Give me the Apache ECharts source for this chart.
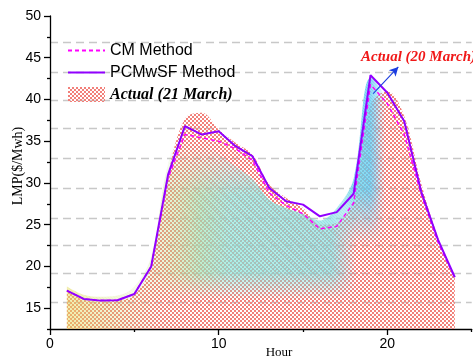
<!DOCTYPE html>
<html>
<head>
<meta charset="utf-8">
<script src="https://cdn.jsdelivr.net/npm/echarts@6/dist/echarts.min.js"></script>
<style>
  html, body { margin: 0; padding: 0; background: #fff; }
  #chart { width: 473px; height: 363px; }
</style>
</head>
<body>
<div id="chart"></div>
<script>
// Hourly LMP values ($/MWh)
const hours = [1, 2, 3, 4, 5, 6, 7, 8, 9, 10, 11, 12, 13, 14, 15, 16, 17, 18, 19, 20, 21, 22, 23, 24];
const cmMethod = [17.1, 16.1, 15.9, 15.95, 16.7, 20.0, 30.6, 35.8, 35.4, 35.0, 34.1, 32.7, 28.8, 27.3, 26.3, 24.5, 24.8, 27.6, 41.8, 39.5, 35.8, 28.7, 22.9, 18.6];
const pcmwsfMethod = [17.1, 16.1, 15.9, 15.95, 16.7, 20.0, 31.0, 36.8, 35.8, 36.2, 34.4, 33.2, 29.4, 27.8, 27.4, 26.0, 26.5, 28.7, 42.9, 40.8, 37.4, 29.0, 23.2, 18.7];
const actual21March = [17.1, 16.0, 15.8, 15.9, 16.6, 20.0, 31.0, 37.7, 38.4, 36.4, 34.8, 33.4, 29.8, 28.2, 27.0, 25.0, 25.2, 27.8, 39.3, 41.0, 38.0, 30.0, 23.5, 18.8];
const actual20March = [17.6, 16.6, 16.35, 16.5, 17.6, 21.2, 32.3, 36.3, 35.0, 33.5, 32.0, 30.5, 28.0, 27.0, 26.3, 25.5, 27.0, 30.5, 42.6, 40.0, 35.0, 28.0, 22.5, 18.3];

// Axis ticks and background guide levels
const xMajorTicks = [0, 10, 20];
const xMinorTicks = [5, 15, 25];
const yMajorTicks = [15, 20, 25, 30, 35, 40, 45, 50];
const yMinorTicks = [12.5, 17.5, 22.5, 27.5, 32.5, 37.5, 42.5, 47.5];
const guideLevels = [15.7, 19.2, 22.5, 25.8, 29.4, 33.0, 36.55, 39.95, 43.3, 46.8];

// Annotation arrow for the 20 March curve (data coordinates)
const arrowFrom = [19.16, 40.7];
const arrowTo = [20.65, 43.9];

const W = 473, H = 363;

function makeCanvas() {
  const c = document.createElement('canvas');
  c.width = W; c.height = H;
  return c;
}

function hGradient(ctx, stops) {
  const gr = ctx.createLinearGradient(0, 0, W, 0);
  stops.forEach(([x, a]) => gr.addColorStop(x / W, 'rgba(0,0,0,' + a + ')'));
  return gr;
}

function vGradient(ctx, stops) {
  const gr = ctx.createLinearGradient(0, 0, 0, H);
  stops.forEach(([y, a]) => gr.addColorStop(y / H, 'rgba(0,0,0,' + a + ')'));
  return gr;
}

// Soft rectangular alpha patch: product of a vertical and a horizontal ramp
function softPatch(vStops, hStops) {
  const c = makeCanvas();
  const g = c.getContext('2d');
  g.fillStyle = vGradient(g, vStops);
  g.fillRect(0, 0, W, H);
  g.globalCompositeOperation = 'destination-in';
  g.fillStyle = hGradient(g, hStops);
  g.fillRect(0, 0, W, H);
  return c;
}

// Red checkerboard fill
function checkerPattern() {
  const c = document.createElement('canvas');
  c.width = 4; c.height = 4;
  const g = c.getContext('2d');
  g.fillStyle = 'rgb(242,128,122)';
  g.fillRect(0, 0, 2, 2);
  g.fillRect(2, 2, 2, 2);
  return c;
}

// Translucent diagonal hatch whose colour drifts from yellow to cyan across the chart
function hatchLayer() {
  const c = makeCanvas();
  const g = c.getContext('2d');
  const col = g.createLinearGradient(60, 0, 400, 0);
  col.addColorStop(0.0, '#e8dc5c');
  col.addColorStop(0.32, '#b8e08c');
  col.addColorStop(0.5, '#84e4da');
  col.addColorStop(0.8, '#7adcde');
  col.addColorStop(0.93, '#5ac6f2');
  col.addColorStop(1.0, 'rgba(90,198,242,0)');
  g.fillStyle = col;
  g.fillRect(0, 0, W, H);

  // strength mask: a soft central band, the low-hour strip and the evening-peak flank
  const m = makeCanvas();
  const mg = m.getContext('2d');
  mg.drawImage(softPatch(
    [[0, 0], [145, 0], [195, 0.78], [272, 0.78], [300, 0], [H, 0]],
    [[0, 0], [135, 0], [200, 1], [332, 1], [356, 0], [W, 0]]
  ), 0, 0);
  mg.drawImage(softPatch(
    [[0, 0.6], [H, 0.6]],
    [[0, 1], [70, 1], [160, 0.08], [200, 0], [W, 0]]
  ), 0, 0);
  mg.drawImage(softPatch(
    [[0, 1], [190, 1], [245, 0], [H, 0]],
    [[0, 0], [335, 0], [352, 0.9], [370, 0.9], [386, 0], [W, 0]]
  ), 0, 0);

  g.globalCompositeOperation = 'destination-in';
  g.drawImage(m, 0, 0);

  // stripes over a faint solid tint
  const s = makeCanvas();
  const sg = s.getContext('2d');
  sg.fillStyle = 'rgba(0,0,0,0.4)';
  sg.fillRect(0, 0, W, H);
  sg.strokeStyle = '#000';
  sg.lineWidth = 1.6;
  for (let i = -H; i < W; i += 3) {
    sg.beginPath();
    sg.moveTo(i, 0);
    sg.lineTo(i + H, H);
    sg.stroke();
  }
  g.drawImage(s, 0, 0);
  g.globalCompositeOperation = 'source-over';
  return c;
}

const redFill = { image: checkerPattern(), repeat: 'repeat' };
const hatchFill = { image: hatchLayer(), repeat: 'no-repeat' };

const pairs = vals => hours.map((h, i) => [h, vals[i]]);

const sansFont = '"Liberation Sans", Arial, sans-serif';
const serifFont = '"Liberation Serif", "Times New Roman", serif';
const noMarker = { color: 'rgba(0,0,0,0)', borderWidth: 0, opacity: 0 };

const chart = echarts.init(document.getElementById('chart'), null, { renderer: 'canvas' });

chart.setOption({
  animation: false,
  backgroundColor: '#fff',
  grid: { left: 50, top: 16, right: 1.3, bottom: 34, containLabel: false },
  legend: {
    left: 62, top: 37.5, orient: 'vertical',
    itemWidth: 37, itemHeight: 15, itemGap: 6,
    textStyle: { color: '#000', fontSize: 16, fontFamily: sansFont },
    data: [
      { name: 'CM Method', itemStyle: noMarker },
      { name: 'PCMwSF Method', itemStyle: noMarker },
      { name: 'Actual (21 March)', icon: 'rect', itemStyle: { color: redFill },
        textStyle: { fontFamily: serifFont, fontStyle: 'italic', fontWeight: 'bold', fontSize: 16, color: '#000' } }
    ]
  },
  xAxis: [
    {
      type: 'value', min: 0, max: 25, position: 'bottom',
      axisLine: { show: true, onZero: false, lineStyle: { color: '#000', width: 1.3 } },
      axisTick: { show: true, customValues: xMajorTicks, length: 6, lineStyle: { color: '#000', width: 1.3 } },
      axisLabel: { customValues: xMajorTicks, color: '#000', fontSize: 14, fontFamily: sansFont, margin: 8 },
      splitLine: { show: false }
    },
    {
      type: 'value', min: 0, max: 25, position: 'bottom',
      axisLine: { show: false, onZero: false },
      axisTick: { show: true, customValues: xMinorTicks, length: 3, lineStyle: { color: '#000', width: 1.3 } },
      axisLabel: { show: false },
      splitLine: { show: false }
    }
  ],
  yAxis: [
    {
      type: 'value', min: 12.5, max: 50, position: 'left',
      axisLine: { show: true, onZero: false, lineStyle: { color: '#000', width: 1.3 } },
      axisTick: { show: true, customValues: yMajorTicks, length: 6, lineStyle: { color: '#000', width: 1.3 } },
      axisLabel: { customValues: yMajorTicks, color: '#000', fontSize: 14, fontFamily: sansFont, margin: 9 },
      splitLine: { show: false }
    },
    {
      type: 'value', min: 12.5, max: 50, position: 'left',
      axisLine: { show: false, onZero: false },
      axisTick: { show: true, customValues: yMinorTicks, length: 3, lineStyle: { color: '#000', width: 1.3 } },
      axisLabel: { show: false },
      splitLine: { show: false }
    }
  ],
  series: [
    {
      name: 'Actual (21 March)', type: 'line', z: 1,
      data: pairs(actual21March), smooth: 0.35, symbol: 'none',
      lineStyle: { width: 0 }, itemStyle: { color: redFill },
      areaStyle: { color: redFill, opacity: 1 },
      markLine: {
        silent: true, z: 0, symbol: ['none', 'none'], label: { show: false },
        lineStyle: { color: '#c8c8c8', type: [8, 5], width: 1.3 },
        emphasis: { disabled: true },
        data: guideLevels.map(v => ({ yAxis: v }))
      }
    },
    {
      name: 'Actual (20 March)', type: 'line', z: 2,
      data: pairs(actual20March), smooth: 0.35, symbol: 'none',
      lineStyle: { width: 0 }, itemStyle: { color: '#84e4da' },
      areaStyle: { color: hatchFill, opacity: 1 }
    },
    {
      name: 'CM Method', type: 'line', z: 3,
      data: pairs(cmMethod), symbol: 'none',
      itemStyle: { color: '#ff00ff' },
      lineStyle: { color: '#ff00ff', width: 1.5, type: [4, 3] }
    },
    {
      name: 'PCMwSF Method', type: 'line', z: 4,
      data: pairs(pcmwsfMethod), symbol: 'none',
      itemStyle: { color: '#9100ff' },
      lineStyle: { color: '#9100ff', width: 2 },
      markLine: {
        silent: true, z: 5, symbol: ['none', 'arrow'], symbolSize: [7, 9],
        label: { show: false },
        lineStyle: { color: '#1a3ce0', width: 1.1, type: 'solid' },
        emphasis: { disabled: true },
        data: [[{ coord: arrowFrom }, { coord: arrowTo }]]
      }
    }
  ],
  graphic: [
    {
      type: 'text', x: 361, y: 57, z: 10,
      style: { text: 'Actual (20 March)', fill: '#f01818', font: 'italic bold 15px ' + serifFont, verticalAlign: 'middle' }
    },
    {
      type: 'text', x: 18, y: 166, rotation: Math.PI / 2, z: 10,
      style: { text: 'LMP($/Mwh)', fill: '#000', font: '14px ' + serifFont, align: 'center', verticalAlign: 'middle' }
    },
    {
      type: 'text', x: 279, y: 353, z: 10,
      style: { text: 'Hour', fill: '#000', font: '13px ' + serifFont, align: 'center', verticalAlign: 'middle' }
    }
  ]
});
</script>
</body>
</html>
